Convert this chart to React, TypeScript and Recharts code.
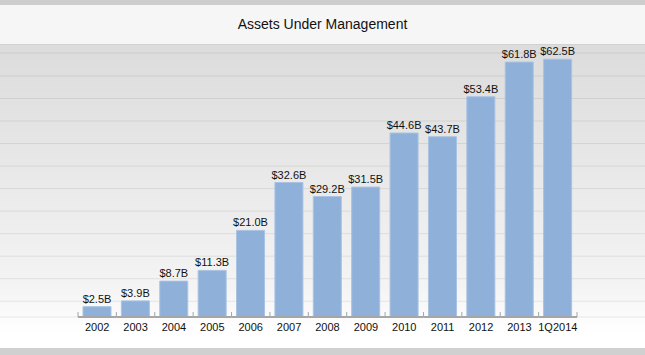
import { Bar, BarChart, CartesianGrid, LabelList, XAxis, YAxis } from 'recharts'

const periods = ['2002', '2003', '2004', '2005', '2006', '2007', '2008', '2009', '2010', '2011', '2012', '2013', '1Q2014']
const assets = [2.5, 3.9, 8.7, 11.3, 21.0, 32.6, 29.2, 31.5, 44.6, 43.7, 53.4, 61.8, 62.5]
const gridTicks = [0, 1, 2, 3, 4, 5, 6, 7, 8, 9, 10]

const data = periods.map((period, i) => ({ period, value: assets[i] }))

const W = 645
const H = 355
const font = '"Liberation Sans", Arial, sans-serif'
const pad = { left: 78, right: 68 }
const band = (W - pad.left - pad.right) / periods.length
const axisColor = '#a6a6a6'

// category label plus the little boundary ticks and axis segment under each band
function PeriodTick({ x, y, payload, index }: any) {
  const last = index === periods.length - 1
  return (
    <g>
      <line x1={x - band / 2} x2={x + band / 2} y1={y} y2={y} stroke={axisColor} strokeWidth={2} />
      <line x1={x - band / 2} x2={x - band / 2} y1={y - 5} y2={y} stroke={axisColor} />
      {last && <line x1={x + band / 2} x2={x + band / 2} y1={y - 5} y2={y} stroke={axisColor} />}
      <text x={x} y={y + 14} textAnchor="middle" fontSize={11} fill="#111" fontFamily={font}>
        {payload.value}
      </text>
    </g>
  )
}

export default function App() {
  return (
    <div style={{ position: 'absolute', left: 0, top: 0, width: W, height: H, overflow: 'hidden', fontFamily: font }}>
      <div style={{ position: 'absolute', left: 0, top: 0, width: W, height: 5, background: '#cdcdcd' }} />
      <div
        style={{
          position: 'absolute', left: 0, top: 5, width: W, height: 39, background: '#f6f6f6',
          borderBottom: '1px solid #d2d2d2', textAlign: 'center', lineHeight: '39px', fontSize: 14, color: '#111',
        }}
      >
        Assets Under Management
      </div>
      <div
        style={{
          position: 'absolute', left: 0, top: 45, width: W, height: 303,
          background: 'linear-gradient(to bottom, #dcdcdc 0%, #f4f4f4 80%, #ffffff 95%)',
        }}
      />
      <div style={{ position: 'absolute', left: 0, top: 348, width: W, height: 7, background: '#d0d0d0' }} />
      <div style={{ position: 'absolute', left: 0, top: 0 }}>
        <BarChart width={W} height={H} data={data} margin={{ top: 53, right: 0, left: 0, bottom: 8 }}>
          <CartesianGrid yAxisId="g" vertical={false} stroke="#000" strokeOpacity={0.08} />
          <XAxis xAxisId="c" dataKey="period" padding={pad} height={30} axisLine={false} tickLine={false}
            tickSize={0} tickMargin={0} tick={<PeriodTick />} interval={0} />
          <YAxis yAxisId="v" hide domain={[0, 64]} allowDataOverflow />
          <YAxis yAxisId="g" hide type="number" domain={[-0.7, 11.02]} ticks={gridTicks} interval={0} allowDataOverflow />
          <Bar xAxisId="c" yAxisId="v" dataKey="value" fill="#8eb0d9" stroke="#a9c3e3" strokeWidth={1} barSize={28} isAnimationActive={false}>
            <LabelList dataKey="value" position="top" offset={4} formatter={(v: any) => `$${Number(v).toFixed(1)}B`}
              style={{ fontSize: 11, fill: '#111', fontFamily: font }} />
          </Bar>
        </BarChart>
      </div>
    </div>
  )
}
